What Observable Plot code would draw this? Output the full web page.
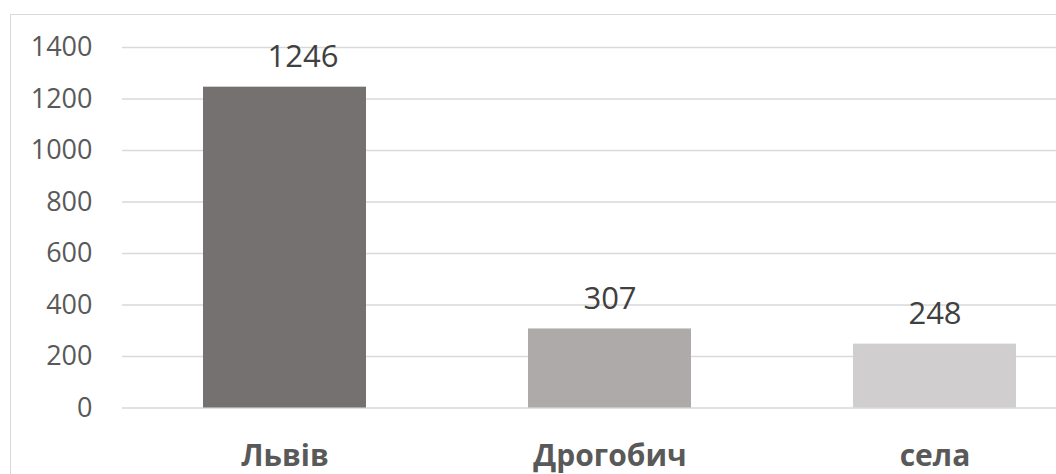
<!DOCTYPE html>
<html>
<head>
<meta charset="utf-8">
<script src="https://cdn.jsdelivr.net/npm/d3@7"></script>
<script src="https://cdn.jsdelivr.net/npm/@observablehq/plot@0.6"></script>
<style>
  html, body { margin: 0; padding: 0; background: #fff; overflow: hidden; width: 1056px; height: 474px; }
  #wrap { position: relative; width: 1056px; height: 474px; }
  #border { position: absolute; left: 9.5px; top: 13.5px; width: 2000px; height: 2000px; border: 1.5px solid #d9d9d9; box-sizing: border-box; pointer-events: none; }
  #chart { position: absolute; left: 0; top: 0; }
</style>
</head>
<body>
<div id="wrap">
  <div id="border"></div>
  <div id="chart"></div>
</div>
<script>
const categories = ["Львів", "Дрогобич", "села"];
const values = [1246, 307, 248];
const barColors = ["#767171", "#AEAAAA", "#D0CECE"];
const yTicks = [0, 200, 400, 600, 800, 1000, 1200, 1400];

const data = categories.map((c, i) => ({cat: c, value: values[i]}));
const font = "'Open Sans', 'DejaVu Sans', sans-serif";

const chart = Plot.plot({
  width: 1056,
  height: 474,
  marginLeft: 122,
  marginRight: 0,
  marginTop: 47,
  marginBottom: 66.5,
  style: {fontFamily: font, background: "transparent", overflow: "visible"},
  x: {domain: categories, range: [121.5, 1096.5], paddingInner: 0.5, paddingOuter: 0.25, label: null},
  y: {domain: [0, 1400], label: null},
  color: {domain: categories, range: barColors},
  marks: [
    Plot.ruleY(yTicks, {stroke: "#d9d9d9", strokeWidth: 1.5}),
    Plot.barY(data, {x: "cat", y: "value", fill: "cat"}),
    Plot.axisY({ticks: yTicks, tickFormat: d => String(d), tickSize: 0, tickPadding: 30, fontSize: 27, fill: "#595959", label: null}),
    Plot.axisX({tickSize: 0, tickPadding: 37, fontSize: 30, fontWeight: "bold", fill: "#595959", label: null}),
    Plot.text(data, {filter: (d, i) => i === 0, x: "cat", y: "value", text: d => String(d.value), lineAnchor: "bottom", dy: -20, dx: 18, fontSize: 31, fill: "#404040"}),
    Plot.text(data, {filter: (d, i) => i > 0, x: "cat", y: "value", text: d => String(d.value), lineAnchor: "bottom", dy: -20, fontSize: 31, fill: "#404040"})
  ]
});
document.getElementById("chart").appendChild(chart);
</script>
</body>
</html>
